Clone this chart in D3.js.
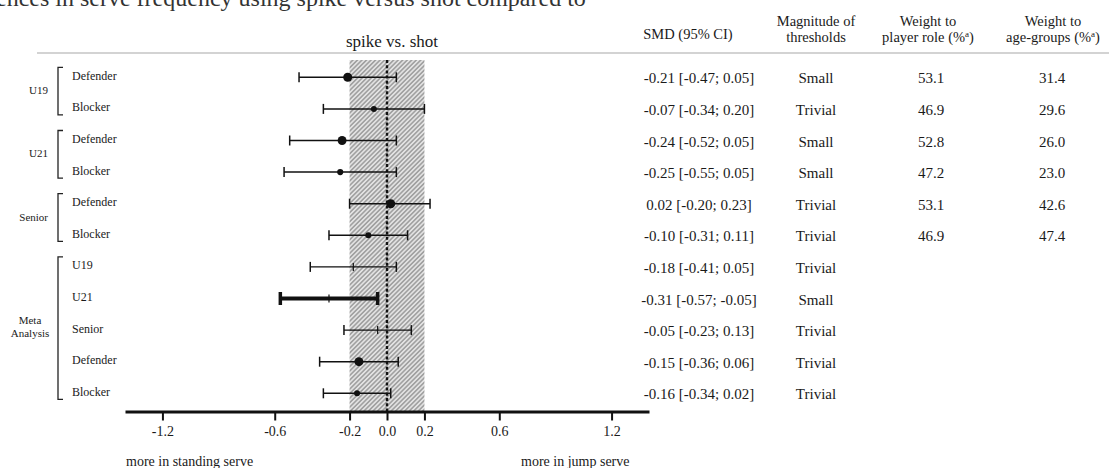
<!DOCTYPE html>
<html>
<head>
<meta charset="utf-8">
<script src="https://cdn.jsdelivr.net/npm/d3@7"></script>
<style>
  body { margin: 0; background: #fff; }
  svg text { font-family: "Liberation Serif", "Times New Roman", serif; fill: #1a1a1a; }
</style>
</head>
<body>
<svg id="chart" width="1109" height="468"></svg>
<script>

// rows of the forest plot, top to bottom
var groups = ["U19", "U19", "U21", "U21", "Senior", "Senior",
              "Meta Analysis", "Meta Analysis", "Meta Analysis", "Meta Analysis", "Meta Analysis"];
var labels = ["Defender", "Blocker", "Defender", "Blocker", "Defender", "Blocker",
              "U19", "U21", "Senior", "Defender", "Blocker"];
var smd    = [-0.21, -0.07, -0.24, -0.25, 0.02, -0.10, -0.18, -0.31, -0.05, -0.15, -0.16];
var ciLow  = [-0.47, -0.34, -0.52, -0.55, -0.20, -0.31, -0.41, -0.57, -0.23, -0.36, -0.34];
var ciHigh = [0.05, 0.20, 0.05, 0.05, 0.23, 0.11, 0.05, -0.05, 0.13, 0.06, 0.02];
var magnitude = ["Small", "Trivial", "Small", "Small", "Trivial", "Trivial",
                 "Trivial", "Small", "Trivial", "Trivial", "Trivial"];
var weightRole = [53.1, 46.9, 52.8, 47.2, 53.1, 46.9, null, null, null, null, null];
var weightAge  = [31.4, 29.6, 26.0, 23.0, 42.6, 47.4, null, null, null, null, null];

var tickValues = [-1.2, -0.6, -0.2, 0.0, 0.2, 0.6, 1.2];
var trivialBand = [-0.2, 0.2];

var headers = [["SMD (95% CI)"], ["Magnitude of", "thresholds"],
               ["Weight to", "player role (%^a)"], ["Weight to", "age-groups (%^a)"]];

var svg = d3.select("#chart");
var n = labels.length;
var axisY = 411.5;

var x = d3.scaleLinear().domain([-1.4, 1.4]).range([125, 649]);
var y = d3.scalePoint().domain(d3.range(n)).range([77.3, 393.3]);

// dot size follows the player role weight
var roleWeights = weightRole.filter(function(w) { return w != null; });
var r = d3.scaleLinear().domain(d3.extent(roleWeights)).range([3, 4.5]);
function pooledWeight(role) {
  return d3.mean(weightRole.filter(function(w, i) { return w != null && labels[i] == role; }));
}

// caption line cut off at the top of the page
svg.append("text")
    .attr("x", -4)
    .attr("y", 6)
    .style("font-size", "24px")
    .style("fill", "#333")
    .text("ences in serve frequency using spike versus shot compared to");

svg.append("text")
    .attr("x", 392)
    .attr("y", 47)
    .attr("text-anchor", "middle")
    .style("font-size", "17px")
    .text("spike vs. shot");

svg.append("line")
    .attr("x1", 37).attr("x2", 1109)
    .attr("y1", 53).attr("y2", 53)
    .attr("stroke", "#c4c4c4")
    .attr("stroke-width", 1.5);

// hatched trivial zone
var defs = svg.append("defs");
var pattern = defs.append("pattern")
    .attr("id", "hatch")
    .attr("patternUnits", "userSpaceOnUse")
    .attr("width", 3.2)
    .attr("height", 3.2)
    .attr("patternTransform", "rotate(45)");
pattern.append("rect").attr("width", 3.2).attr("height", 3.2).attr("fill", "#e2e2e2");
pattern.append("line")
    .attr("x1", 0.8).attr("x2", 0.8)
    .attr("y1", 0).attr("y2", 3.2)
    .attr("stroke", "#8c8c8c")
    .attr("stroke-width", 1.2);

svg.append("rect")
    .attr("x", x(trivialBand[0]))
    .attr("y", 60)
    .attr("width", x(trivialBand[1]) - x(trivialBand[0]))
    .attr("height", axisY - 60)
    .attr("fill", "url(#hatch)");

svg.append("line") // line of no effect
    .attr("x1", x(0)).attr("x2", x(0))
    .attr("y1", 60).attr("y2", axisY)
    .attr("stroke", "#111")
    .attr("stroke-width", 2.4)
    .attr("stroke-dasharray", "3,2.2");

// confidence intervals
var isMeta = function(i) { return groups[i] == "Meta Analysis"; };
var isAgeRow = function(i) { return isMeta(i) && groups.indexOf(labels[i]) >= 0; };
var isBold = function(i) { return isMeta(i) && ciHigh[i] < 0; };

var rows = svg.append("g").selectAll("g")
    .data(d3.range(n))
    .enter().append("g")
    .attr("transform", function(i) { return "translate(0," + y(i) + ")"; });

rows.append("line")
    .attr("x1", function(i) { return x(ciLow[i]); })
    .attr("x2", function(i) { return x(ciHigh[i]); })
    .attr("stroke", "#111")
    .attr("stroke-width", function(i) { return isBold(i) ? 4 : (isAgeRow(i) ? 1.2 : 1.5); });

rows.selectAll(".cap")
    .data(function(i) { return [[i, ciLow[i]], [i, ciHigh[i]]]; })
    .enter().append("line")
    .attr("class", "cap")
    .attr("x1", function(d) { return x(d[1]); })
    .attr("x2", function(d) { return x(d[1]); })
    .attr("y1", function(d) { return isBold(d[0]) ? -6.5 : -5; })
    .attr("y2", function(d) { return isBold(d[0]) ? 6.5 : 5; })
    .attr("stroke", "#111")
    .attr("stroke-width", function(d) { return isBold(d[0]) ? 3.5 : 1.5; });

// pooled age-groups get a small tick, the rest a dot
rows.filter(isAgeRow).append("line")
    .attr("x1", function(i) { return x(smd[i]); })
    .attr("x2", function(i) { return x(smd[i]); })
    .attr("y1", -4).attr("y2", 4)
    .attr("stroke", "#111")
    .attr("stroke-width", 1.2);

rows.filter(function(i) { return !isAgeRow(i); }).append("circle")
    .attr("cx", function(i) { return x(smd[i]); })
    .attr("r", function(i) {
      return r(weightRole[i] != null ? weightRole[i] : pooledWeight(labels[i]));
    })
    .attr("fill", "#111");

// x axis
var axis = svg.append("g")
    .attr("transform", "translate(0," + axisY + ")")
    .call(d3.axisBottom(x)
      .tickValues(tickValues)
      .tickFormat(function(d) { return d.toFixed(1); })
      .tickSize(9)
      .tickSizeOuter(0)
      .tickPadding(6));
axis.select(".domain").attr("stroke", "#111").attr("stroke-width", 3);
axis.selectAll(".tick line").attr("stroke", "#111").attr("stroke-width", 2);
axis.selectAll(".tick text")
    .style("font-size", "14px")
    .style("font-family", "'Liberation Serif', 'Times New Roman', serif")
    .attr("fill", "#1a1a1a");

svg.append("text")
    .attr("x", 126).attr("y", 466)
    .style("font-size", "14px")
    .text("more in standing serve");
svg.append("text")
    .attr("x", 521).attr("y", 466)
    .style("font-size", "14px")
    .text("more in jump serve");

// row labels with brackets per group
svg.append("g").selectAll("text")
    .data(d3.range(n))
    .enter().append("text")
    .attr("x", 72)
    .attr("y", function(i) { return y(i) + 2.5; })
    .style("font-size", "12px")
    .text(function(i) { return labels[i]; });

var groupNames = Array.from(new Set(groups));
groupNames.forEach(function(g) {
  var idx = d3.range(n).filter(function(i) { return groups[i] == g; });
  var top = y(idx[0]) - 10;
  var bottom = y(idx[idx.length - 1]) + 6;
  svg.append("path")
      .attr("d", "M63," + top + "H58V" + bottom + "H63")
      .attr("fill", "none")
      .attr("stroke", "#222")
      .attr("stroke-width", 1.3);

  var mid = (y(idx[0]) + y(idx[idx.length - 1])) / 2;
  var words = g.split(" ");
  var label = svg.append("text")
      .attr("text-anchor", words.length > 1 ? "middle" : "end")
      .style("font-size", "11px");
  words.forEach(function(w, k) {
    label.append("tspan")
        .attr("x", words.length > 1 ? 30 : 48)
        .attr("y", words.length > 1 ? mid - 6 + k * 13 : mid + 1)
        .text(w);
  });
});

// table on the right
var headerX = [688, 816, 928, 1053];
var colX = [699, 816, 931, 1052];

headers.forEach(function(lines, c) {
  var t = svg.append("text")
      .attr("text-anchor", "middle")
      .style("font-size", "14.5px");
  lines.forEach(function(line, k) {
    var ts = t.append("tspan")
        .attr("x", headerX[c])
        .attr("y", lines.length > 1 ? 26 + k * 16 : 39);
    var parts = line.split("^");
    ts.append("tspan").text(parts[0]);
    if (parts.length > 1) {
      ts.append("tspan")
          .attr("dy", -5)
          .style("font-size", "9px")
          .text(parts[1].charAt(0));
      ts.append("tspan")
          .attr("dy", 5)
          .text(parts[1].slice(1));
    }
  });
});

var columns = [
  function(i) { return smd[i].toFixed(2) + " [" + ciLow[i].toFixed(2) + "; " + ciHigh[i].toFixed(2) + "]"; },
  function(i) { return magnitude[i]; },
  function(i) { return weightRole[i] == null ? "" : weightRole[i].toFixed(1); },
  function(i) { return weightAge[i] == null ? "" : weightAge[i].toFixed(1); }
];

columns.forEach(function(fmt, c) {
  svg.append("g").selectAll("text")
      .data(d3.range(n))
      .enter().append("text")
      .attr("x", colX[c])
      .attr("y", function(i) { return y(i) + 6; })
      .attr("text-anchor", "middle")
      .style("font-size", "15px")
      .text(fmt);
});

</script>
</body>
</html>
